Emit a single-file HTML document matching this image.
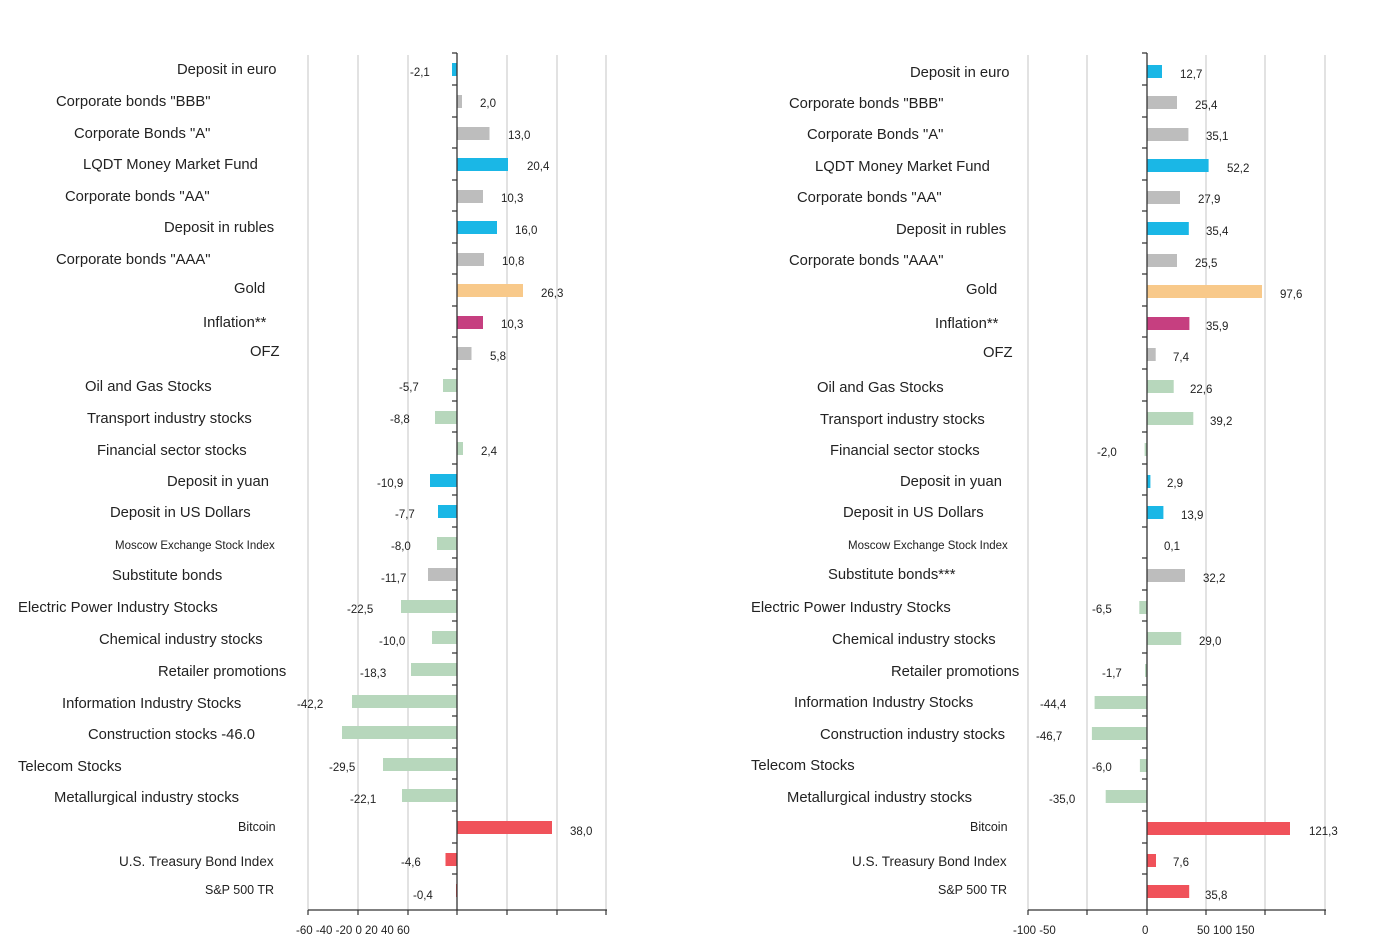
<!DOCTYPE html>
<html><head><meta charset="utf-8"><style>
html,body{margin:0;padding:0;background:#fff;}
svg{display:block;}
text{font-family:"Liberation Sans",Arial,sans-serif;fill:#222;}
.c{font-size:14.8px;}
.v{font-size:11.5px;fill:#333;}
.g{stroke:#d8d8d8;stroke-width:1.5;}
.ax{stroke:#333;stroke-width:1.3;}
</style></head><body>
<svg width="1373" height="939" viewBox="0 0 1373 939" xmlns="http://www.w3.org/2000/svg">
<rect width="1373" height="939" fill="#fff"/>
<g class="g">
<line x1="308" y1="55" x2="308" y2="910"/><line x1="358" y1="55" x2="358" y2="910"/><line x1="408" y1="55" x2="408" y2="910"/>
<line x1="507" y1="55" x2="507" y2="910"/><line x1="557" y1="55" x2="557" y2="910"/><line x1="606" y1="55" x2="606" y2="910"/>
<line x1="1028" y1="55" x2="1028" y2="910"/><line x1="1087" y1="55" x2="1087" y2="910"/><line x1="1206" y1="55" x2="1206" y2="910"/>
<line x1="1265" y1="55" x2="1265" y2="910"/><line x1="1325" y1="55" x2="1325" y2="910"/>
</g>
<g>
<rect x="452" y="63" width="5" height="13" fill="#1ab7e6"/>
<rect x="457" y="95" width="5" height="13" fill="#bdbdbd"/>
<rect x="457" y="127" width="32.5" height="13" fill="#bdbdbd"/>
<rect x="457" y="158" width="51" height="13" fill="#1ab7e6"/>
<rect x="457" y="190" width="26" height="13" fill="#bdbdbd"/>
<rect x="457" y="221" width="40" height="13" fill="#1ab7e6"/>
<rect x="457" y="253" width="27" height="13" fill="#bdbdbd"/>
<rect x="457" y="284" width="66" height="13" fill="#f8c98a"/>
<rect x="457" y="316" width="26" height="13" fill="#c63f80"/>
<rect x="457" y="347" width="14.5" height="13" fill="#bdbdbd"/>
<rect x="443" y="379" width="14" height="13" fill="#b7d7bc"/>
<rect x="435" y="411" width="22" height="13" fill="#b7d7bc"/>
<rect x="457" y="442" width="6" height="13" fill="#b7d7bc"/>
<rect x="430" y="474" width="27" height="13" fill="#1ab7e6"/>
<rect x="438" y="505" width="19" height="13" fill="#1ab7e6"/>
<rect x="437" y="537" width="20" height="13" fill="#b7d7bc"/>
<rect x="428" y="568" width="29" height="13" fill="#bdbdbd"/>
<rect x="401" y="600" width="56" height="13" fill="#b7d7bc"/>
<rect x="432" y="631" width="25" height="13" fill="#b7d7bc"/>
<rect x="411" y="663" width="46" height="13" fill="#b7d7bc"/>
<rect x="352" y="695" width="105" height="13" fill="#b7d7bc"/>
<rect x="342" y="726" width="115" height="13" fill="#b7d7bc"/>
<rect x="383" y="758" width="74" height="13" fill="#b7d7bc"/>
<rect x="402" y="789" width="55" height="13" fill="#b7d7bc"/>
<rect x="457" y="821" width="95" height="13" fill="#f0525a"/>
<rect x="445.5" y="853" width="11.5" height="13" fill="#f0525a"/>
<rect x="456" y="884" width="1" height="13" fill="#f0525a"/>
</g>
<g>
<rect x="1147" y="65" width="15" height="13" fill="#1ab7e6"/>
<rect x="1147" y="96" width="30" height="13" fill="#bdbdbd"/>
<rect x="1147" y="128" width="41.4" height="13" fill="#bdbdbd"/>
<rect x="1147" y="159" width="61.6" height="13" fill="#1ab7e6"/>
<rect x="1147" y="191" width="33" height="13" fill="#bdbdbd"/>
<rect x="1147" y="222" width="41.8" height="13" fill="#1ab7e6"/>
<rect x="1147" y="254" width="30" height="13" fill="#bdbdbd"/>
<rect x="1147" y="285" width="115" height="13" fill="#f8c98a"/>
<rect x="1147" y="317" width="42.4" height="13" fill="#c63f80"/>
<rect x="1147" y="348" width="8.7" height="13" fill="#bdbdbd"/>
<rect x="1147" y="380" width="26.7" height="13" fill="#b7d7bc"/>
<rect x="1147" y="412" width="46.3" height="13" fill="#b7d7bc"/>
<rect x="1144.6" y="443" width="2.4" height="13" fill="#b7d7bc"/>
<rect x="1147" y="475" width="3.4" height="13" fill="#1ab7e6"/>
<rect x="1147" y="506" width="16.4" height="13" fill="#1ab7e6"/>
<rect x="1147" y="538" width="0.5" height="13" fill="#b7d7bc"/>
<rect x="1147" y="569" width="38" height="13" fill="#bdbdbd"/>
<rect x="1139.3" y="601" width="7.7" height="13" fill="#b7d7bc"/>
<rect x="1147" y="632" width="34.2" height="13" fill="#b7d7bc"/>
<rect x="1145" y="664" width="2" height="13" fill="#b7d7bc"/>
<rect x="1094.6" y="696" width="52.4" height="13" fill="#b7d7bc"/>
<rect x="1091.9" y="727" width="55.1" height="13" fill="#b7d7bc"/>
<rect x="1139.9" y="759" width="7.1" height="13" fill="#b7d7bc"/>
<rect x="1105.7" y="790" width="41.3" height="13" fill="#b7d7bc"/>
<rect x="1147" y="822" width="143" height="13" fill="#f0525a"/>
<rect x="1147" y="854" width="9" height="13" fill="#f0525a"/>
<rect x="1147" y="885" width="42.2" height="13" fill="#f0525a"/>
</g>
<g class="ax">
<line x1="457" y1="53" x2="457" y2="910"/><line x1="308" y1="910" x2="607" y2="910"/>
<line x1="1147" y1="53" x2="1147" y2="910"/><line x1="1028" y1="910" x2="1326" y2="910"/>
</g>
<g stroke="#333" stroke-width="1.2">
<path d="M452 53h5M452 85h5M452 117h5M452 148h5M452 180h5M452 211h5M452 243h5M452 274h5M452 306h5M452 337h5M452 369h5M452 401h5M452 432h5M452 464h5M452 495h5M452 527h5M452 558h5M452 590h5M452 621h5M452 653h5M452 685h5M452 716h5M452 748h5M452 779h5M452 811h5M452 843h5M452 874h5"/>
<path d="M1142 53h5M1142 85h5M1142 117h5M1142 148h5M1142 180h5M1142 211h5M1142 243h5M1142 274h5M1142 306h5M1142 337h5M1142 369h5M1142 401h5M1142 432h5M1142 464h5M1142 495h5M1142 527h5M1142 558h5M1142 590h5M1142 621h5M1142 653h5M1142 685h5M1142 716h5M1142 748h5M1142 779h5M1142 811h5M1142 843h5M1142 874h5"/>
<path d="M308 910v5M358 910v5M408 910v5M457 910v5M507 910v5M557 910v5M606 910v5"/>
<path d="M1028 910v5M1087 910v5M1147 910v5M1206 910v5M1265 910v5M1325 910v5"/>
</g>
<g class="v">
<text x="296" y="934">-60 -40 -20 0 20 40 60</text>
<text x="1013" y="934">-100 -50</text><text x="1142" y="934">0</text><text x="1197" y="934">50 100 150</text>
</g>
<g class="c">
<text x="177" y="74">Deposit in euro</text>
<text x="56" y="106">Corporate bonds "BBB"</text>
<text x="74" y="138">Corporate Bonds "A"</text>
<text x="83" y="169">LQDT Money Market Fund</text>
<text x="65" y="201">Corporate bonds "AA"</text>
<text x="164" y="232">Deposit in rubles</text>
<text x="56" y="264">Corporate bonds "AAA"</text>
<text x="234" y="293">Gold</text>
<text x="203" y="327">Inflation**</text>
<text x="250" y="356">OFZ</text>
<text x="85" y="391">Oil and Gas Stocks</text>
<text x="87" y="423">Transport industry stocks</text>
<text x="97" y="455">Financial sector stocks</text>
<text x="167" y="486">Deposit in yuan</text>
<text x="110" y="517">Deposit in US Dollars</text>
<text x="115" y="549" style="font-size:11.5px">Moscow Exchange Stock Index</text>
<text x="112" y="580">Substitute bonds</text>
<text x="18" y="612">Electric Power Industry Stocks</text>
<text x="99" y="644">Chemical industry stocks</text>
<text x="158" y="676">Retailer promotions</text>
<text x="62" y="708">Information Industry Stocks</text>
<text x="88" y="739">Construction stocks -46.0</text>
<text x="18" y="771">Telecom Stocks</text>
<text x="54" y="802">Metallurgical industry stocks</text>
<text x="238" y="831" style="font-size:12.5px">Bitcoin</text>
<text x="119" y="866" style="font-size:13.5px">U.S. Treasury Bond Index</text>
<text x="205" y="894" style="font-size:12.5px">S&amp;P 500 TR</text>
</g>
<g class="c">
<text x="910" y="77">Deposit in euro</text>
<text x="789" y="108">Corporate bonds "BBB"</text>
<text x="807" y="139">Corporate Bonds "A"</text>
<text x="815" y="171">LQDT Money Market Fund</text>
<text x="797" y="202">Corporate bonds "AA"</text>
<text x="896" y="234">Deposit in rubles</text>
<text x="789" y="265">Corporate bonds "AAA"</text>
<text x="966" y="294">Gold</text>
<text x="935" y="328">Inflation**</text>
<text x="983" y="357">OFZ</text>
<text x="817" y="392">Oil and Gas Stocks</text>
<text x="820" y="424">Transport industry stocks</text>
<text x="830" y="455">Financial sector stocks</text>
<text x="900" y="486">Deposit in yuan</text>
<text x="843" y="517">Deposit in US Dollars</text>
<text x="848" y="549" style="font-size:11.5px">Moscow Exchange Stock Index</text>
<text x="828" y="579">Substitute bonds***</text>
<text x="751" y="612">Electric Power Industry Stocks</text>
<text x="832" y="644">Chemical industry stocks</text>
<text x="891" y="676">Retailer promotions</text>
<text x="794" y="707">Information Industry Stocks</text>
<text x="820" y="739">Construction industry stocks</text>
<text x="751" y="770">Telecom Stocks</text>
<text x="787" y="802">Metallurgical industry stocks</text>
<text x="970" y="831" style="font-size:12.5px">Bitcoin</text>
<text x="852" y="866" style="font-size:13.5px">U.S. Treasury Bond Index</text>
<text x="938" y="894" style="font-size:12.5px">S&amp;P 500 TR</text>
</g>
<g class="v">
<text x="410" y="76">-2,1</text><text x="480" y="107">2,0</text><text x="508" y="139">13,0</text><text x="527" y="170">20,4</text>
<text x="501" y="202">10,3</text><text x="515" y="234">16,0</text><text x="502" y="265">10,8</text><text x="541" y="297">26,3</text>
<text x="501" y="328">10,3</text><text x="490" y="360">5,8</text><text x="399" y="391">-5,7</text><text x="390" y="423">-8,8</text>
<text x="481" y="455">2,4</text><text x="377" y="487">-10,9</text><text x="395" y="518">-7,7</text><text x="391" y="550">-8,0</text>
<text x="381" y="582">-11,7</text><text x="347" y="613">-22,5</text><text x="379" y="645">-10,0</text><text x="360" y="677">-18,3</text>
<text x="297" y="708">-42,2</text><text x="329" y="771">-29,5</text><text x="350" y="803">-22,1</text>
<text x="570" y="835">38,0</text><text x="401" y="866">-4,6</text><text x="413" y="899">-0,4</text>
</g>
<g class="v">
<text x="1180" y="78">12,7</text><text x="1195" y="109">25,4</text><text x="1206" y="140">35,1</text><text x="1227" y="172">52,2</text>
<text x="1198" y="203">27,9</text><text x="1206" y="235">35,4</text><text x="1195" y="267">25,5</text><text x="1280" y="298">97,6</text>
<text x="1206" y="330">35,9</text><text x="1173" y="361">7,4</text><text x="1190" y="393">22,6</text><text x="1210" y="425">39,2</text>
<text x="1097" y="456">-2,0</text><text x="1167" y="487">2,9</text><text x="1181" y="519">13,9</text><text x="1164" y="550">0,1</text>
<text x="1203" y="582">32,2</text><text x="1092" y="613">-6,5</text><text x="1199" y="645">29,0</text><text x="1102" y="677">-1,7</text>
<text x="1040" y="708">-44,4</text><text x="1036" y="740">-46,7</text><text x="1092" y="771">-6,0</text><text x="1049" y="803">-35,0</text>
<text x="1309" y="835">121,3</text><text x="1173" y="866">7,6</text><text x="1205" y="899">35,8</text>
</g>
</svg>
</body></html>
